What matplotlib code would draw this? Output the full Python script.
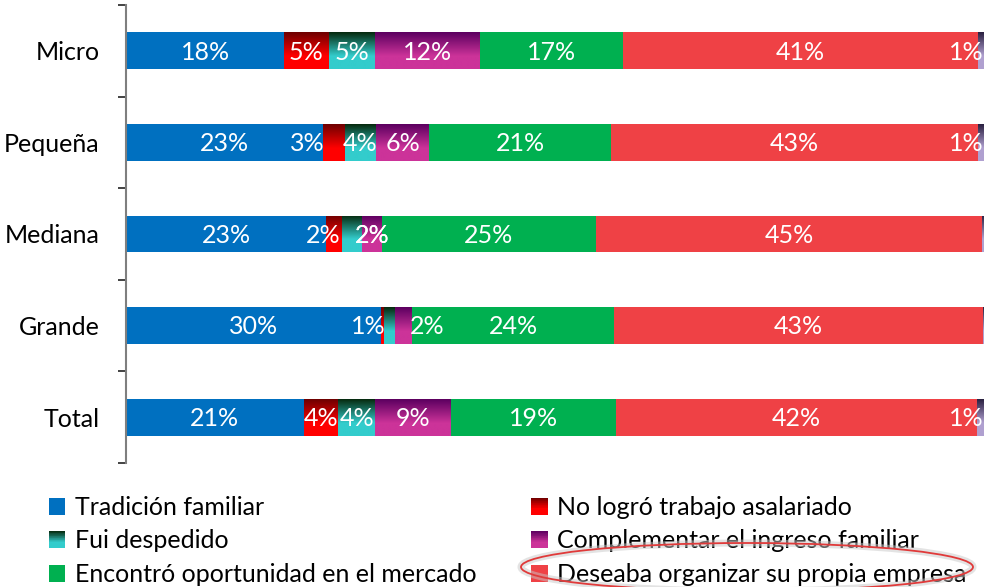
import matplotlib
matplotlib.use('Agg')
import matplotlib.pyplot as plt
import numpy as np
from matplotlib.patches import Rectangle, Ellipse, Patch
from matplotlib.legend_handler import HandlerBase
import matplotlib.patheffects as pe
from matplotlib.colors import to_rgb

plt.rcParams['font.family'] = ['Lato', 'DejaVu Sans']
FS = 18

categories = ['Micro', 'Pequeña', 'Mediana', 'Grande', 'Total']
series_names = ['Tradición familiar', 'No logró trabajo asalariado', 'Fui despedido',
                'Complementar el ingreso familiar', 'Encontró oportunidad en el mercado',
                'Deseaba organizar su propia empresa', 'Otro']
tradicion = [18.4, 22.9, 23.3, 29.7, 20.7]
no_logro = [5.2, 2.6, 1.9, 0.35, 4.0]
despedido = [5.4, 3.6, 2.3, 1.3, 4.3]
complementar = [12.2, 6.2, 2.3, 1.9, 8.8]
oportunidad = [16.6, 21.2, 24.9, 23.6, 19.2]
propia = [41.4, 42.7, 45.0, 42.9, 42.1]
otro = [0.8, 0.8, 0.3, 0.3, 0.9]
series = [tradicion, no_logro, despedido, complementar, oportunidad, propia, otro]

# (top colour, bottom colour); equal means solid
colors = [('#0070C0', '#0070C0'),
          ('#6E0000', '#FF0000'),
          ('#062A0E', '#33CCCC'),
          ('#5C0060', '#CC3399'),
          ('#00B050', '#00B050'),
          ('#EF4145', '#EF4145'),
          ('#2A2040', '#B0A0D0')]

# manual label shifts in pixels (series index, category index)
label_shift = {(1, 1): -27, (1, 2): -11, (2, 2): 20, (2, 3): -21, (3, 3): 24}
for c in range(5):
    label_shift[(6, c)] = -15

W, H = 984, 587
fig = plt.figure(figsize=(W / 100, H / 100), dpi=100)
ax = fig.add_axes([126 / W, 1 - 463 / H, (985 - 126) / W, (463 - 5) / H])

y = np.arange(len(categories))
bh = 0.40


def grad_img(top, bot, n=64):
    t = np.clip(np.linspace(0, 1, n) / 0.65, 0, 1)[:, None]
    a = np.array(to_rgb(top))[None, :]
    b = np.array(to_rgb(bot))[None, :]
    return (a * (1 - t) + b * t)[:, None, :]


left = np.zeros(len(categories))
for si, vals in enumerate(series):
    vals = np.array(vals)
    top, bot = colors[si]
    gradient = top != bot
    bars = ax.barh(y, vals, left=left, height=bh,
                   color=('none' if gradient else top), edgecolor='none', zorder=2)
    if gradient:
        img = grad_img(top, bot)
        for b in bars:
            x0, y0 = b.get_x(), b.get_y()
            w, h = b.get_width(), b.get_height()
            im = ax.imshow(img, extent=(x0, x0 + w, y0 + h, y0), aspect='auto',
                           origin='upper', interpolation='bilinear', zorder=2)
            im.set_clip_path(b)
    for ci, (v, l) in enumerate(zip(vals, left)):
        if round(v) == 0:
            continue
        dx = label_shift.get((si, ci), 0) * 0.72
        ax.annotate(f'{round(v):.0f}%', xy=(l + v / 2, y[ci]), xytext=(dx, -1),
                    textcoords='offset points', ha='center', va='center',
                    color='white', fontsize=FS, zorder=5, annotation_clip=False)
    left = left + vals

ax.set_xlim(0, 100)
ax.set_ylim(len(categories) - 0.5, -0.5)
ax.set_yticks(y)
ax.set_yticklabels(categories, fontsize=FS)
ax.set_yticks(np.arange(-0.5, len(categories)), minor=True)
ax.tick_params(axis='y', which='major', length=0, pad=19)
ax.tick_params(axis='y', which='minor', length=6, width=1.2, color='#222222', direction='out')
ax.set_xticks([])
for s in ['top', 'right', 'bottom']:
    ax.spines[s].set_visible(False)
ax.spines['left'].set_color('#7F7F7F')
ax.spines['left'].set_linewidth(1.5)


class GradHandler(HandlerBase):
    def __init__(self, top, bot):
        super().__init__()
        self.top, self.bot = np.array(to_rgb(top)), np.array(to_rgb(bot))

    def create_artists(self, legend, orig_handle, xdescent, ydescent, width, height, fontsize, trans):
        n = 24
        arts = []
        for i in range(n):
            t = min(1.0, (i + 0.5) / n / 0.65)
            c = self.top * (1 - t) + self.bot * t
            y0 = -ydescent + height * (1 - (i + 1) / n)
            arts.append(Rectangle((-xdescent, y0), width, height / n * 1.05,
                                  facecolor=c, edgecolor='none', transform=trans))
        return arts


handles = [Patch(facecolor=colors[i][0]) for i in range(6)]
hmap = {}
for i in range(6):
    if colors[i][0] != colors[i][1]:
        hmap[handles[i]] = GradHandler(*colors[i])
order = [0, 2, 4, 1, 3, 5]
leg = fig.legend([handles[i] for i in order], [series_names[i] for i in order],
                 handler_map=hmap, ncol=2, loc='upper left',
                 bbox_to_anchor=(49 / W, 1 - 496 / H), frameon=False, fontsize=FS,
                 borderpad=0, borderaxespad=0, handlelength=0.65, handleheight=0.65,
                 handletextpad=0.38, columnspacing=2.2, labelspacing=0.42)

ell = Ellipse((747 / W, 1 - 567 / H), 452 / W, 48 / H, transform=fig.transFigure,
              facecolor='none', edgecolor='#E03A3A', linewidth=1.3, zorder=10,
              path_effects=[pe.Stroke(linewidth=5, foreground='#C8C8C8', alpha=0.5), pe.Normal()])
fig.add_artist(ell)

fig.savefig('out.png', dpi=100)
